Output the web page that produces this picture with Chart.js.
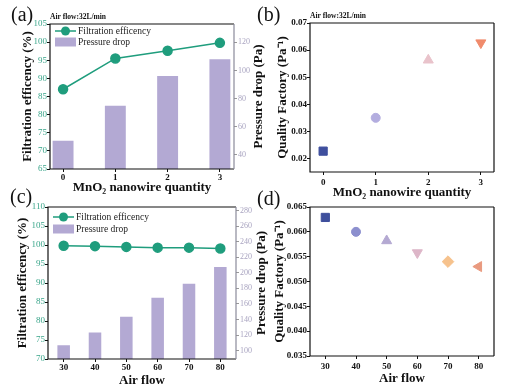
<!DOCTYPE html>
<html>
<head>
<meta charset="utf-8">
<script src="https://cdn.jsdelivr.net/npm/chart.js@4.4.1/dist/chart.umd.min.js"></script>
<style>
  body { margin: 0; background: #fff; width: 506px; height: 392px; position: relative; overflow: hidden; }
  canvas { position: absolute; }
  .tag { position: absolute; font-family: 'Liberation Serif', serif; font-size: 20px; color: #111; line-height: 20px; }
</style>
</head>
<body>
<canvas id="chartA" width="270" height="195" style="left:0;top:0"></canvas>
<canvas id="chartB" width="256" height="200" style="left:250px;top:0"></canvas>
<canvas id="chartC" width="270" height="197" style="left:0;top:195px"></canvas>
<canvas id="chartD" width="256" height="197" style="left:250px;top:195px"></canvas>
<div class="tag" style="left:11px;top:4px">(a)</div>
<div class="tag" style="left:257px;top:4px">(b)</div>
<div class="tag" style="left:10px;top:186px">(c)</div>
<div class="tag" style="left:257px;top:188px">(d)</div>
<script>
// data
const quantities = [0, 1, 2, 3];
const effByQuantity = [87.0, 95.5, 97.6, 99.8];
const pressureByQuantity = [50, 75, 96, 108];
const qfByQuantity = [0.0227, 0.035, 0.0563, 0.0627];

const airFlows = [30, 40, 50, 60, 70, 80];
const effByFlow = [99.8, 99.7, 99.5, 99.3, 99.3, 99.1];
const pressureByFlow = [107, 123.5, 143.5, 168, 186, 207.5];
const qfByFlow = [0.0629, 0.060, 0.0582, 0.0558, 0.054, 0.053];

// tick labels
const effTicksA = [65, 70, 75, 80, 85, 90, 95, 100, 105];
const pressTicksA = [40, 60, 80, 100, 120];
const qfTicksB = [0.02, 0.03, 0.04, 0.05, 0.06, 0.07];
const effTicksC = [70, 75, 80, 85, 90, 95, 100, 105, 110];
const pressTicksC = [100, 120, 140, 160, 180, 200, 220, 240, 260, 280];
const qfTicksD = [0.035, 0.04, 0.045, 0.05, 0.055, 0.06, 0.065];

const SERIF = "'Liberation Serif', 'Times New Roman', serif";
const TEAL = '#1f9d7d';
const BAR = '#b3a9d3';
const markersB = [
  { style: 'rect', color: '#3f4f9e', rot: 0 },
  { style: 'circle', color: '#b3addf', rot: 0 },
  { style: 'triangle', color: '#e9c3cb', rot: 0 },
  { style: 'triangle', color: '#f08b6c', rot: 180 }
];
const markersD = [
  { style: 'rect', color: '#3e4f9c', rot: 0 },
  { style: 'circle', color: '#8c8fce', rot: 0 },
  { style: 'triangle', color: '#b4a9d2', rot: 0 },
  { style: 'triangle', color: '#ddb6c8', rot: 180 },
  { style: 'rectRot', color: '#f6c28d', rot: 0 },
  { style: 'triangle', color: '#e99a7f', rot: 270 }
];

// frame, note, side title and legend drawn on top of each chart
const decor = {
  id: 'decor',
  afterDraw(chart, args, opts) {
    const { ctx, chartArea: a } = chart;
    ctx.save();
    ctx.lineWidth = 1.2;
    ctx.strokeStyle = '#111';
    ctx.beginPath();
    ctx.moveTo(a.right, a.top);
    ctx.lineTo(a.left, a.top);
    ctx.lineTo(a.left, a.bottom);
    ctx.lineTo(a.right, a.bottom);
    ctx.stroke();
    ctx.strokeStyle = opts.rightColor || '#111';
    ctx.beginPath();
    ctx.moveTo(a.right, a.top);
    ctx.lineTo(a.right, a.bottom);
    ctx.stroke();

    if (opts.note) {
      ctx.fillStyle = '#111';
      ctx.font = 'bold 7.5px ' + SERIF;
      ctx.textBaseline = 'alphabetic';
      ctx.textAlign = 'left';
      ctx.fillText(opts.note, a.left, a.top - 5);
    }
    if (opts.rightTitle) {
      ctx.save();
      ctx.translate(a.right + opts.rightGap, (a.top + a.bottom) / 2);
      ctx.rotate(-Math.PI / 2);
      ctx.fillStyle = '#111';
      ctx.font = 'bold 13px ' + SERIF;
      ctx.textAlign = 'center';
      ctx.textBaseline = 'middle';
      ctx.fillText(opts.rightTitle, 0, 0);
      ctx.restore();
    }
    if (opts.legend) {
      const L = opts.legend;
      const x0 = a.left + 5;
      let y = a.top + L.y1;
      ctx.strokeStyle = TEAL;
      ctx.lineWidth = 1.5;
      ctx.beginPath();
      ctx.moveTo(x0, y);
      ctx.lineTo(x0 + 21, y);
      ctx.stroke();
      ctx.fillStyle = TEAL;
      ctx.beginPath();
      ctx.arc(x0 + 10.5, y, 4.5, 0, Math.PI * 2);
      ctx.fill();
      ctx.fillStyle = '#222';
      ctx.font = '9.5px ' + SERIF;
      ctx.textAlign = 'left';
      ctx.textBaseline = 'middle';
      ctx.fillText(chart.data.datasets[0].label, x0 + 23, y);
      y = a.top + L.y2;
      ctx.fillStyle = BAR;
      ctx.fillRect(x0, y - 4.5, 21, 9);
      ctx.fillStyle = '#222';
      ctx.fillText(chart.data.datasets[1].label, x0 + 23, y);
    }
    ctx.restore();
  }
};

function fixTicks(values) {
  return scale => { scale.ticks = values.map(v => ({ value: v })); };
}
function fixSize(prop, size) {
  return scale => { scale[prop] = size; };
}
const tickFontBold = { family: SERIF, size: 9, weight: 'bold' };
const titleFont = { family: SERIF, size: 13, weight: 'bold' };
const xTitleFont = { family: SERIF, size: 13, weight: 'bold' };
const markGrid = { drawOnChartArea: false, drawTicks: true, tickLength: 3, color: '#111' };

// (a) efficiency + pressure drop vs MnO2 quantity
new Chart(document.getElementById('chartA'), {
  data: {
    datasets: [
      {
        type: 'line', label: 'Filtration efficency',
        data: quantities.map((q, i) => ({ x: q, y: effByQuantity[i] })),
        yAxisID: 'y', borderColor: TEAL, backgroundColor: TEAL, borderWidth: 1.5,
        pointRadius: 4.5, pointHoverRadius: 4.5, order: 0
      },
      {
        type: 'bar', label: 'Pressure drop',
        data: quantities.map((q, i) => ({ x: q, y: pressureByQuantity[i] })),
        yAxisID: 'y2', backgroundColor: BAR, barPercentage: 0.4, categoryPercentage: 1, order: 1
      }
    ]
  },
  options: {
    responsive: false, animation: false, devicePixelRatio: 1,
    layout: { padding: { top: 24, left: 0, right: 0, bottom: 0 } },
    plugins: {
      legend: { display: false }, tooltip: { enabled: false },
      decor: { note: 'Air flow:32L/min', rightTitle: 'Pressure drop (Pa)', rightGap: 25, rightColor: '#8a8a9a', legend: { y1: 7, y2: 18 } }
    },
    scales: {
      x: {
        type: 'linear', min: -0.25, max: 3.27, offset: false,
        afterBuildTicks: fixTicks(quantities), afterFit: fixSize('height', 26),
        border: { display: false }, grid: { ...markGrid, offset: false },
        ticks: { font: tickFontBold, color: '#111', padding: 0 },
        title: { display: true, text: 'MnO₂ nanowire quantity', font: xTitleFont, color: '#111', padding: { top: 0, bottom: 0 } }
      },
      y: {
        position: 'left', min: 65, max: 105,
        afterBuildTicks: fixTicks(effTicksA), afterFit: fixSize('width', 50),
        border: { display: false }, grid: markGrid,
        ticks: { font: { family: SERIF, size: 9 }, color: '#3aa58a', padding: 0 },
        title: { display: true, text: 'Filtration efficency (%)', font: titleFont, color: '#111', padding: { top: 20, bottom: 0 } }
      },
      y2: {
        position: 'right', min: 30, max: 133,
        afterBuildTicks: fixTicks(pressTicksA), afterFit: fixSize('width', 36),
        border: { display: false }, grid: { drawOnChartArea: false, tickLength: 3, color: '#999' },
        ticks: { font: { family: SERIF, size: 8 }, color: '#a9a4c0', padding: 1 }
      }
    }
  },
  plugins: [decor]
});

// (b) quality factor vs MnO2 quantity
new Chart(document.getElementById('chartB'), {
  type: 'scatter',
  data: {
    datasets: [{
      label: 'Quality factor',
      data: quantities.map((q, i) => ({ x: q, y: qfByQuantity[i] })),
      pointStyle: markersB.map(m => m.style),
      rotation: markersB.map(m => m.rot),
      backgroundColor: markersB.map(m => m.color),
      borderColor: markersB.map(m => m.color),
      pointRadius: markersB.map(m => m.style === 'circle' ? 4.5 : 5.8),
      pointHoverRadius: markersB.map(m => m.style === 'circle' ? 4.5 : 5.8)
    }]
  },
  options: {
    responsive: false, animation: false, devicePixelRatio: 1,
    layout: { padding: { top: 23, left: 0, right: 12, bottom: 0 } },
    plugins: { legend: { display: false }, tooltip: { enabled: false }, decor: { note: 'Air flow:32L/min' } },
    scales: {
      x: {
        type: 'linear', min: -0.25, max: 3.25,
        afterBuildTicks: fixTicks(quantities), afterFit: fixSize('height', 28),
        border: { display: false }, grid: markGrid,
        ticks: { font: tickFontBold, color: '#111', padding: 2 },
        title: { display: true, text: 'MnO₂ nanowire quantity', font: xTitleFont, color: '#111', padding: { top: 0, bottom: 0 } }
      },
      y: {
        min: 0.015, max: 0.07,
        afterBuildTicks: fixTicks(qfTicksB), afterFit: fixSize('width', 60),
        border: { display: false }, grid: markGrid,
        ticks: { font: tickFontBold, color: '#111', padding: 0, callback: v => v.toFixed(2) },
        title: { display: true, text: 'Quality Factory (Pa⁻¹)', font: titleFont, color: '#111', padding: { top: 25, bottom: 0 } }
      }
    }
  },
  plugins: [decor]
});

// (c) efficiency + pressure drop vs air flow
new Chart(document.getElementById('chartC'), {
  data: {
    labels: airFlows,
    datasets: [
      {
        type: 'line', label: 'Filtration efficency', data: effByFlow,
        yAxisID: 'y', borderColor: TEAL, backgroundColor: TEAL, borderWidth: 1.5,
        pointRadius: 4.5, pointHoverRadius: 4.5, order: 0
      },
      {
        type: 'bar', label: 'Pressure drop', data: pressureByFlow,
        yAxisID: 'y2', backgroundColor: BAR, barPercentage: 0.4, categoryPercentage: 1, order: 1
      }
    ]
  },
  options: {
    responsive: false, animation: false, devicePixelRatio: 1,
    layout: { padding: { top: 12, left: 0, right: 0, bottom: 0 } },
    plugins: {
      legend: { display: false }, tooltip: { enabled: false },
      decor: { rightTitle: 'Pressure drop (Pa)', rightGap: 26, rightColor: '#8a8a9a', legend: { y1: 10, y2: 22 } }
    },
    scales: {
      x: {
        type: 'category', offset: true,
        afterFit: fixSize('height', 33),
        border: { display: false }, grid: { ...markGrid, offset: false },
        ticks: { font: tickFontBold, color: '#111', padding: 0 },
        title: { display: true, text: 'Air flow', font: xTitleFont, color: '#111', padding: { top: 0, bottom: 4 } }
      },
      y: {
        position: 'left', min: 70, max: 110,
        afterBuildTicks: fixTicks(effTicksC), afterFit: fixSize('width', 48),
        border: { display: false }, grid: markGrid,
        ticks: { font: { family: SERIF, size: 9 }, color: '#3aa58a', padding: 0 },
        title: { display: true, text: 'Filtration efficency (%)', font: titleFont, color: '#111', padding: { top: 15, bottom: 0 } }
      },
      y2: {
        position: 'right', min: 89.4, max: 284.4,
        afterBuildTicks: fixTicks(pressTicksC), afterFit: fixSize('width', 34),
        border: { display: false }, grid: { drawOnChartArea: false, tickLength: 3, color: '#999' },
        ticks: { font: { family: SERIF, size: 8 }, color: '#a9a4c0', padding: 1 }
      }
    }
  },
  plugins: [decor]
});

// (d) quality factor vs air flow
new Chart(document.getElementById('chartD'), {
  type: 'scatter',
  data: {
    datasets: [{
      label: 'Quality factor',
      data: airFlows.map((f, i) => ({ x: f, y: qfByFlow[i] })),
      pointStyle: markersD.map(m => m.style),
      rotation: markersD.map(m => m.rot),
      backgroundColor: markersD.map(m => m.color),
      borderColor: markersD.map(m => m.color),
      pointRadius: markersD.map(m => m.style === 'circle' ? 4.5 : 5.8),
      pointHoverRadius: markersD.map(m => m.style === 'circle' ? 4.5 : 5.8)
    }]
  },
  options: {
    responsive: false, animation: false, devicePixelRatio: 1,
    layout: { padding: { top: 12, left: 0, right: 12, bottom: 0 } },
    plugins: { legend: { display: false }, tooltip: { enabled: false }, decor: {} },
    scales: {
      x: {
        type: 'linear', min: 25, max: 85,
        afterBuildTicks: fixTicks(airFlows), afterFit: fixSize('height', 36),
        border: { display: false }, grid: markGrid,
        ticks: { font: tickFontBold, color: '#111', padding: 2 },
        title: { display: true, text: 'Air flow', font: xTitleFont, color: '#111', padding: { top: 0, bottom: 6 } }
      },
      y: {
        min: 0.035, max: 0.065,
        afterBuildTicks: fixTicks(qfTicksD), afterFit: fixSize('width', 60),
        border: { display: false }, grid: markGrid,
        ticks: { font: tickFontBold, color: '#111', padding: 0, callback: v => v.toFixed(3) },
        title: { display: true, text: 'Quality Factory (Pa⁻¹)', font: titleFont, color: '#111', padding: { top: 22, bottom: 0 } }
      }
    }
  },
  plugins: [decor]
});
</script>
</body>
</html>
